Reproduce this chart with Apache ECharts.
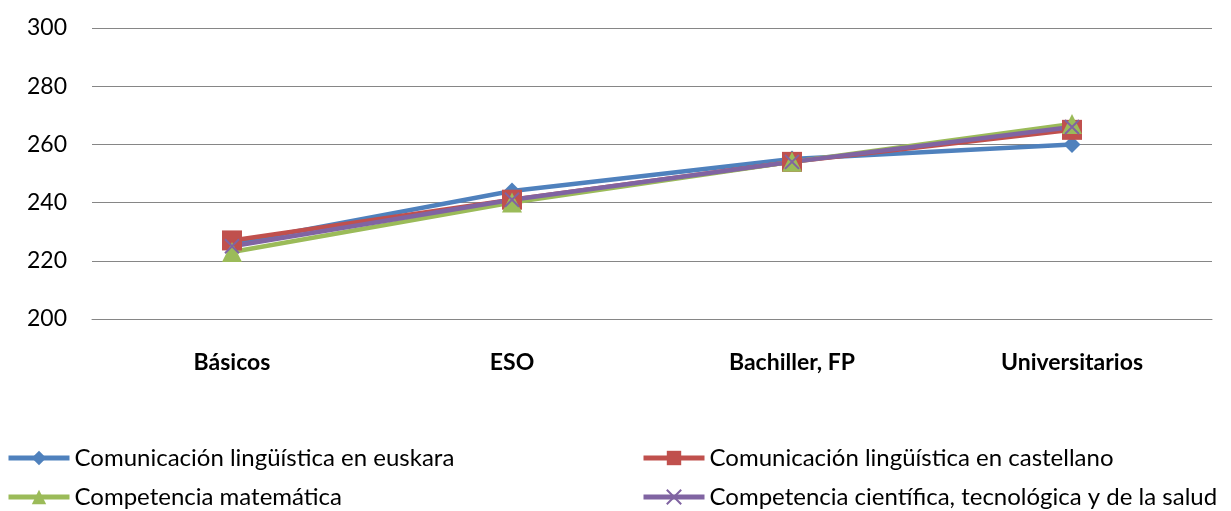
<!DOCTYPE html>
<html>
<head>
<meta charset="utf-8">
<script src="https://cdn.jsdelivr.net/npm/echarts@6/dist/echarts.min.js"></script>
<style>
html, body { margin: 0; padding: 0; background: #fff; }
#chart { width: 1231px; height: 511px; }
</style>
</head>
<body>
<div id="chart"></div>
<script>
// Levels of studies on the x axis
const categories = ['Básicos', 'ESO', 'Bachiller, FP', 'Universitarios'];

// Average scores per competence
const euskara = [226, 244, 255, 260];
const castellano = [227, 241, 254, 265];
const matematica = [223, 240, 254, 267];
const cientifica = [225, 241, 254, 266];

const seriesNames = [
  'Comunicación lingüística en euskara',
  'Comunicación lingüística en castellano',
  'Competencia matemática',
  'Competencia científica, tecnológica y de la salud'
];

const yTicks = { min: 200, max: 300, interval: 20 };

const FONT = 'Lato, "Open Sans", sans-serif';
const crossPath = 'path://M0,0L10,10M10,0L0,10';

const chart = echarts.init(document.getElementById('chart'), null, { renderer: 'canvas' });

function lineSeries(name, data, color, symbol, size, extra) {
  return Object.assign({
    name: name,
    type: 'line',
    data: data,
    symbol: symbol,
    symbolSize: size,
    showAllSymbol: true,
    lineStyle: { color: color, width: 4.5 },
    itemStyle: { color: color },
    emphasis: { disabled: true },
    animation: false
  }, extra || {});
}

// One legend block per entry, laid out as a two-column grid
function legendAt(name, left, top) {
  return {
    data: [name],
    left: left,
    top: top,
    padding: 0,
    orient: 'horizontal',
    itemWidth: 61,
    itemHeight: 18,
    itemGap: 0,
    lineStyle: { width: 5 },
    textStyle: { fontFamily: FONT, fontSize: 24, color: '#000' },
    selectedMode: false
  };
}

chart.setOption({
  backgroundColor: '#fff',
  grid: { left: 92, right: 19, top: 28, bottom: 192, containLabel: false },
  legend: [
    legendAt(seriesNames[0], 6, 446),
    legendAt(seriesNames[2], 6, 485),
    legendAt(seriesNames[1], 641, 446),
    legendAt(seriesNames[3], 641, 485)
  ],
  xAxis: {
    type: 'category',
    data: categories,
    boundaryGap: true,
    axisLine: { show: true, lineStyle: { color: '#868686', width: 1 } },
    axisTick: { show: false },
    axisLabel: { fontFamily: FONT, fontSize: 23, fontWeight: 'bold', color: '#000', margin: 32 }
  },
  yAxis: {
    type: 'value',
    min: yTicks.min,
    max: yTicks.max,
    interval: yTicks.interval,
    axisLine: { show: false },
    axisTick: { show: false },
    axisLabel: { fontFamily: FONT, fontSize: 23, color: '#000', margin: 25 },
    splitLine: { lineStyle: { color: '#868686', width: 1 } }
  },
  series: [
    lineSeries(seriesNames[0], euskara, '#4F81BD', 'diamond', 17),
    lineSeries(seriesNames[1], castellano, '#C0504D', 'rect', 20),
    lineSeries(seriesNames[2], matematica, '#9BBB59', 'triangle', 20),
    lineSeries(seriesNames[3], cientifica, '#8064A2', crossPath, 14, {
      itemStyle: { color: '#8064A2', borderColor: '#8064A2', borderWidth: 2 }
    })
  ]
});
</script>
</body>
</html>
